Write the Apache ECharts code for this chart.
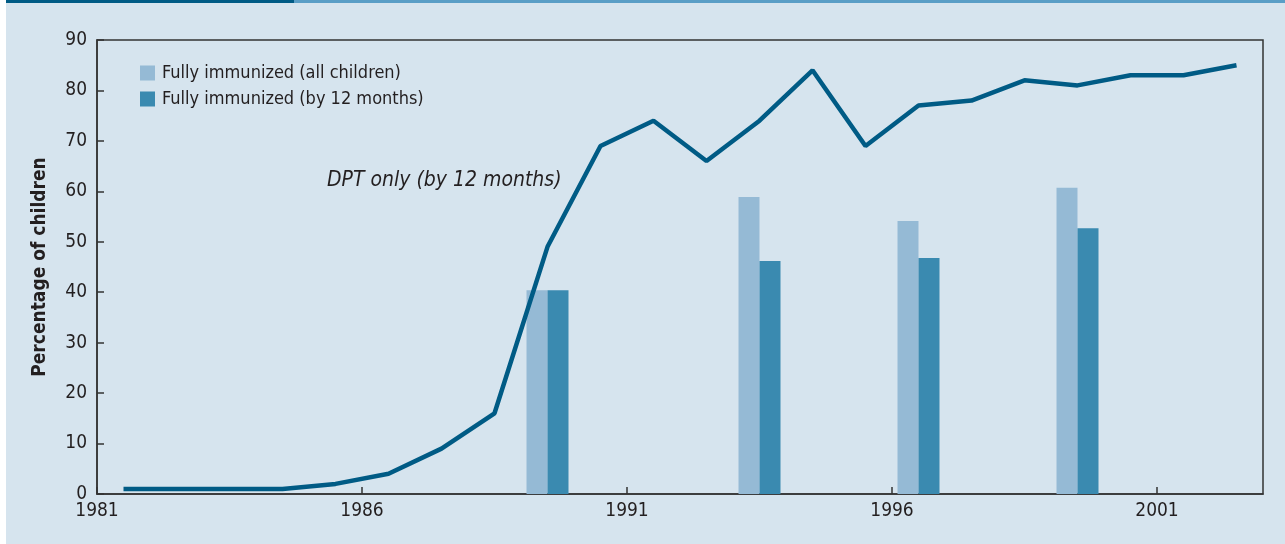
<!DOCTYPE html>
<html><head><meta charset="utf-8">
<script src="https://cdn.jsdelivr.net/npm/echarts@6/dist/echarts.min.js"></script>
<style>html,body{margin:0;padding:0;background:#fff}#c{width:1285px;height:544px}</style>
</head><body><div id="c"></div>
<script>
const startYear = 1981;
const years = [1981,1982,1983,1984,1985,1986,1987,1988,1989,1990,1991,1992,1993,1994,1995,1996,1997,1998,1999,2000,2001,2002];
const dpt = [1,1,1,1,2,4,9,16,49,69,74,66,74,84,69,77,78,82,81,83,83,85];
const barYears = [1989,1993,1996,1999];
const fullyAll = [40.4,58.9,54.1,60.7];
const fully12 = [40.4,46.2,46.8,52.7];
const xTickLabels = ['1981','1986','1991','1996','2001'];

const font = '"Liberation Sans Narrow","DejaVu Sans Condensed","Liberation Sans",sans-serif';
const txt = '#231f20';
const chart = echarts.init(document.getElementById('c'));
chart.setOption({
  animation:false,
  backgroundColor:'transparent',
  textStyle:{fontFamily:font,color:txt},
  graphic:[
    {type:'rect',z:-10,shape:{x:6,y:0,width:1279,height:544},style:{fill:'#d6e4ee'}},
    {type:'rect',shape:{x:6,y:0,width:288,height:3},style:{fill:'#005b85'}},
    {type:'rect',shape:{x:294,y:0,width:991,height:3},style:{fill:'#5a9ec6'}},
    {type:'text',left:327,top:170,style:{text:'DPT only (by 12 months)',font:'italic 21px '+font,fill:txt}}
  ],
  grid:{left:97,right:22,top:40,bottom:50,show:true,borderColor:'#333',borderWidth:1.5,backgroundColor:'transparent'},
  legend:{orient:'vertical',left:135,top:59,itemWidth:15,itemHeight:15,itemGap:8,icon:'rect',
    data:['Fully immunized (all children)','Fully immunized (by 12 months)'],
    textStyle:{fontFamily:font,fontSize:18,lineHeight:15,color:txt,padding:[0,0,0,2]}},
  xAxis:{type:'value',min:0,max:22,interval:5,
    axisLine:{lineStyle:{color:'#333',width:1.5}},
    axisTick:{inside:true,length:7,lineStyle:{color:'#333',width:1.5}},
    splitLine:{show:false},
    axisLabel:{fontSize:19,color:txt,fontFamily:font,margin:8,showMaxLabel:false,
      formatter:v=>(v%5===0?(xTickLabels[v/5]||''):'')}},
  yAxis:{type:'value',min:0,max:90,interval:10,
    name:'Percentage of children',nameLocation:'middle',nameGap:47,
    nameTextStyle:{fontSize:19,fontWeight:'bold',color:txt,fontFamily:font},
    axisLine:{show:true,lineStyle:{color:'#333',width:1.5}},
    axisTick:{show:true,inside:true,length:7,lineStyle:{color:'#333',width:1.5}},
    splitLine:{show:false},
    axisLabel:{fontSize:19,color:txt,fontFamily:font,margin:10}},
  series:[
    {name:'Fully immunized (all children)',type:'bar',barWidth:21,barGap:'0%',
     itemStyle:{color:'#95bad5'},
     data:barYears.map((y,i)=>[y-startYear+0.5,fullyAll[i]])},
    {name:'Fully immunized (by 12 months)',type:'bar',barWidth:21,barGap:'0%',
     itemStyle:{color:'#3a8ab0'},
     data:barYears.map((y,i)=>[y-startYear+0.5,fully12[i]])},
    {name:'DPT',type:'line',symbol:'none',z:5,
     lineStyle:{color:'#005b85',width:4.5},
     data:years.map((y,i)=>[y-startYear+0.5,dpt[i]])}
  ]
});
</script></body></html>
